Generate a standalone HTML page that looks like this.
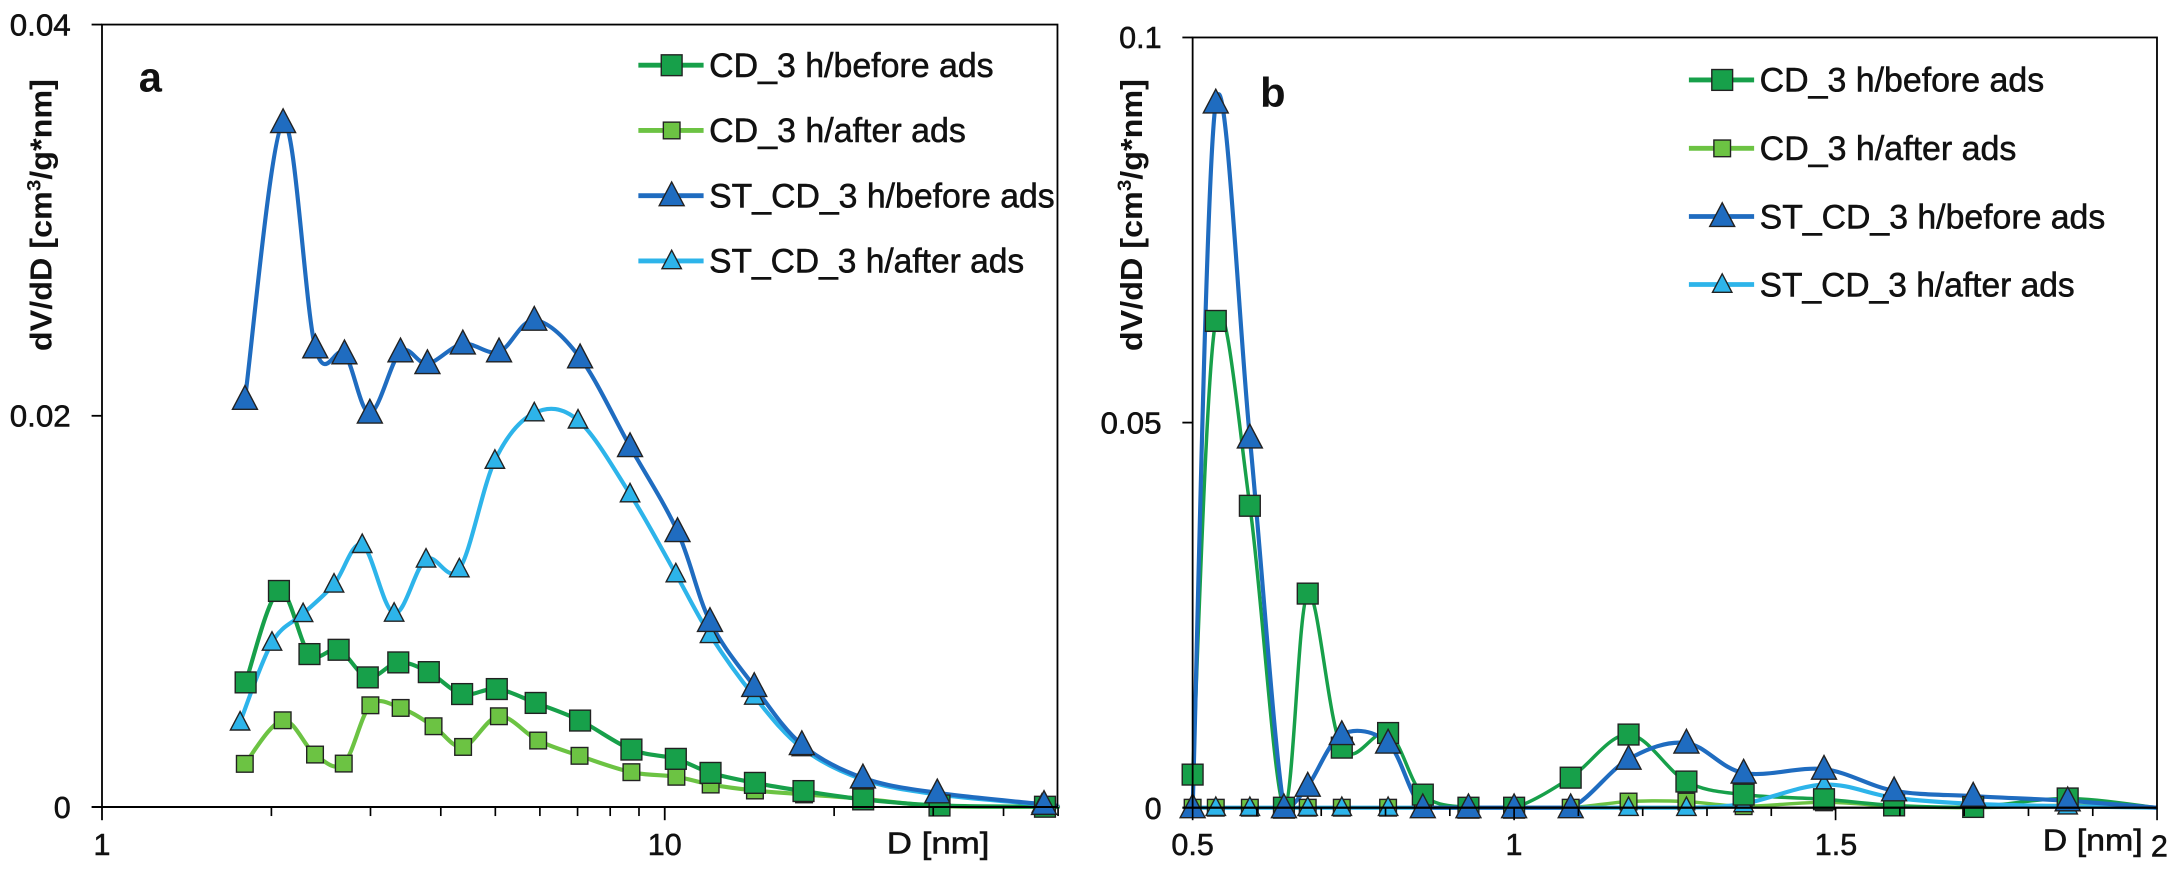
<!DOCTYPE html>
<html><head><meta charset="utf-8"><style>
html,body{margin:0;padding:0;background:#fff;}
svg{display:block;}
text{font-family:"Liberation Sans Narrow","Liberation Sans",sans-serif;fill:#111;}
</style></head><body>
<svg id="s" width="2176" height="871" viewBox="0 0 1568 627.6" preserveAspectRatio="none" xmlns="http://www.w3.org/2000/svg">
<rect x="0" y="0" width="1568" height="627.6" fill="#fff"/>
<g id="g"></g>
<!-- left panel axes -->
<rect x="73.5" y="17.7" width="688.5" height="563.8" fill="none" stroke="#000" stroke-width="1.3"/>
<line x1="66" y1="17.7" x2="73.5" y2="17.7" stroke="#000" stroke-width="1.3"/>
<line x1="66" y1="299.6" x2="73.5" y2="299.6" stroke="#000" stroke-width="1.3"/>
<line x1="66" y1="581.5" x2="762" y2="581.5" stroke="#000" stroke-width="1.5"/>
<g id="lt"></g>
<text x="51" y="25.5" font-size="22" text-anchor="end" textLength="44" lengthAdjust="spacingAndGlyphs" stroke="#111" stroke-width="0.4">0.04</text>
<text x="51" y="307.5" font-size="22" text-anchor="end" textLength="44" lengthAdjust="spacingAndGlyphs" stroke="#111" stroke-width="0.4">0.02</text>
<text x="51" y="589.5" font-size="22" text-anchor="end" stroke="#111" stroke-width="0.4">0</text>
<text x="73.5" y="616" font-size="22" text-anchor="middle" stroke="#111" stroke-width="0.4">1</text>
<text x="479" y="616" font-size="22" text-anchor="middle" stroke="#111" stroke-width="0.4">10</text>
<text x="676" y="615" font-size="22" text-anchor="middle" textLength="74" lengthAdjust="spacingAndGlyphs" stroke="#111" stroke-width="0.4">D [nm]</text>
<text x="100" y="66" font-size="30" font-weight="bold" font-family="Liberation Sans">a</text>
<text transform="translate(37,155) rotate(-90)" font-size="22" font-weight="bold" font-family="Liberation Sans" text-anchor="middle" textLength="196" lengthAdjust="spacingAndGlyphs">dV/dD [cm<tspan font-size="14" dy="-8">3</tspan><tspan dy="8">/g*nm]</tspan></text>
<!-- right panel axes -->
<rect x="859.4" y="27" width="694.9" height="555" fill="none" stroke="#000" stroke-width="1.3"/>
<line x1="852" y1="27" x2="859.4" y2="27" stroke="#000" stroke-width="1.3"/>
<line x1="852" y1="304.5" x2="859.4" y2="304.5" stroke="#000" stroke-width="1.3"/>
<line x1="852" y1="582" x2="1554.3" y2="582" stroke="#000" stroke-width="1.5"/>
<g id="rt"></g>
<text x="837" y="34.5" font-size="22" text-anchor="end" stroke="#111" stroke-width="0.4">0.1</text>
<text x="837" y="312.5" font-size="22" text-anchor="end" textLength="44" lengthAdjust="spacingAndGlyphs" stroke="#111" stroke-width="0.4">0.05</text>
<text x="837" y="590" font-size="22" text-anchor="end" stroke="#111" stroke-width="0.4">0</text>
<text x="859.4" y="616" font-size="22" text-anchor="middle" stroke="#111" stroke-width="0.4">0.5</text>
<text x="1091" y="616" font-size="22" text-anchor="middle" stroke="#111" stroke-width="0.4">1</text>
<text x="1323" y="616" font-size="22" text-anchor="middle" stroke="#111" stroke-width="0.4">1.5</text>
<text x="1508" y="613" font-size="22" text-anchor="middle" textLength="72" lengthAdjust="spacingAndGlyphs" stroke="#111" stroke-width="0.4">D [nm]</text>
<text x="1556" y="617" font-size="22" text-anchor="middle" stroke="#111" stroke-width="0.4">2</text>
<text x="908" y="77" font-size="30" font-weight="bold" font-family="Liberation Sans">b</text>
<text transform="translate(823,155) rotate(-90)" font-size="22" font-weight="bold" font-family="Liberation Sans" text-anchor="middle" textLength="196" lengthAdjust="spacingAndGlyphs">dV/dD [cm<tspan font-size="14" dy="-8">3</tspan><tspan dy="8">/g*nm]</tspan></text>
<g id="leg"></g>
</svg>
<script>
var NS="http://www.w3.org/2000/svg";
function el(p,n,a){var e=document.createElementNS(NS,n);for(var k in a)e.setAttribute(k,a[k]);p.appendChild(e);return e;}
var C={cdb:"#17a04a",cda:"#6cc343",stb:"#1f6cc0",sta:"#2db4ea"};
var L={
stb:[[176.5,287.7],[204,88.3],[227.2,250.6],[248.2,254.9],[266.5,297.6],[288.6,253.5],[308,262],[333.5,247.8],[359.6,253.5],[385,230.7],[418,257.8],[454,321.8],[488.2,383],[511.6,447.8],[543.5,494.6],[577.8,536.5],[621.8,560.5],[675.4,571.3],[752.3,579.6],[762,580.5]],
sta:[[173,520.4],[196,462.9],[218.4,442.3],[240.7,421],[261,392.5],[284,442],[307,403],[331,410],[356.6,331.8],[385,297.6],[416.5,302.8],[454,356],[487,413.6],[511.6,457.4],[543.5,501.8],[577.8,538.9],[621.8,561.7],[675.4,572.4],[750.8,579.6],[762,580.5]],
cdb:[[177,491.7],[201,425.8],[223,471.3],[244,468.2],[265,488.1],[287,477.3],[309,484.3],[333,500.1],[358,496.5],[386,506.5],[418,519.2],[455,540.1],[487,546.8],[512,556.9],[544,564.1],[579,570],[622,576],[677,580.4],[753,581.3]],
cda:[[176.4,550.4],[203.7,519],[227,543.7],[247.7,550.2],[266.9,508.2],[288.7,510.1],[312.4,523.3],[333.7,538.2],[359.5,516.1],[387.8,533.6],[417.6,544.6],[455,556.4],[487.4,559.7],[512.1,565.3],[544,569.6],[579.4,572.4],[621.8,575.6],[677.5,580.8],[753.3,581.3]]
};
var D=[0.5,0.536,0.589,0.642,0.679,0.732,0.804,0.858,0.929,1.0,1.088,1.178,1.268,1.357,1.482,1.591,1.714,1.861];
var RV={
cdb:[0.0043,0.0632,0.0392,0,0.0278,0.0078,0.0097,0.0017,0,0,0.0039,0.0095,0.0034,0.0017,0.0011,0.0003,0.0001,0.0012],
cda:[0,0,0,0,0,0,0,0,0,0,0,0.0008,0.0008,0.0002,0.0007,0.0002,0,0.0003],
stb:[0,0.0915,0.048,0,0.0028,0.0095,0.0084,0,0,0,0,0.0063,0.0084,0.0045,0.005,0.0022,0.0015,0.0009],
sta:[0,0,0,0,0,0,0,0,0,0,0,0,0,0.0005,0.003,0.0013,0.0005,0.0002]};
function rx(d){return 859.4+(d-0.5)*463.3;} function ry(v){return 582-v*5550;}
function path(p,clampY){var s="M"+p[0][0]+","+p[0][1];for(var i=0;i<p.length-1;i++){var p0=p[i-1]||p[i],p1=p[i],p2=p[i+1],p3=p[i+2]||p2,t=6;
var c1y=p1[1]+(p2[1]-p0[1])/t,c2y=p2[1]-(p3[1]-p1[1])/t;if(clampY){c1y=Math.min(c1y,clampY);c2y=Math.min(c2y,clampY);}
s+=" C"+(p1[0]+(p2[0]-p0[0])/t)+","+c1y+" "+(p2[0]-(p3[0]-p1[0])/t)+","+c2y+" "+p2[0]+","+p2[1];}return s;}
function marker(g,k,x,y,big){var c=C[k];
if(k[0]=="c"){var h=big?7.5:6;el(g,"rect",{x:x-h,y:y-h,width:2*h,height:2*h,fill:c,stroke:"#222","stroke-width":1});}
else{var h=k=="stb"?9:7;el(g,"polygon",{points:(x)+","+(y-h*1.1)+" "+(x-h)+","+(y+h*0.8)+" "+(x+h)+","+(y+h*0.8),fill:c,stroke:"#222","stroke-width":1});}}
var g=document.getElementById("g");
var order=["cda","cdb","sta","stb"];
order.forEach(function(k){var p=L[k].slice();if(k[0]=="c")p.push([762,581.5]);
el(g,"path",{d:path(p),fill:"none",stroke:C[k],"stroke-width":3});});
order.forEach(function(k){L[k].forEach(function(q,i){if(q[0]<760)marker(g,k,q[0],q[1],k=="cdb");});});
order.forEach(function(k){var p=D.map(function(d,i){return [rx(d),ry(RV[k][i])];});p.push([1554.3,582]);
el(g,"path",{d:path(p,582),fill:"none",stroke:C[k],"stroke-width":k[0]=="c"?2.5:3});});
["cda","sta","cdb","stb"].forEach(function(k){D.forEach(function(d,i){marker(g,k,rx(d),ry(RV[k][i]),k=="cdb");});});
var lt=document.getElementById("lt");
for(var dec=0;dec<2;dec++)for(var m=2;m<=9;m++){var v=Math.pow(10,dec)*m;if(v>50)break;var x=73.5+405.5*Math.log10(v);el(lt,"line",{x1:x,y1:581.5,x2:x,y2:588,stroke:"#000","stroke-width":1.2});}
[1,10].forEach(function(v){var x=73.5+405.5*Math.log10(v);el(lt,"line",{x1:x,y1:581.5,x2:x,y2:591,stroke:"#000","stroke-width":1.3});});
var rt=document.getElementById("rt");
for(var d=0.5;d<=2.001;d+=0.1){var x=rx(d);var maj=Math.abs(d*2-Math.round(d*2))<0.01;el(rt,"line",{x1:x,y1:582,x2:x,y2:maj?591:588,stroke:"#000","stroke-width":1.2});}
var lg=document.getElementById("leg");
var labs={cdb:"CD_3 h/before ads",cda:"CD_3 h/after ads",stb:"ST_CD_3 h/before ads",sta:"ST_CD_3 h/after ads"};
var lens={cdb:205,cda:185,stb:249,sta:227};
function legend(x0,ys){var ks=["cdb","cda","stb","sta"];ks.forEach(function(k,i){var y=ys[i];
el(lg,"line",{x1:x0,y1:y,x2:x0+47,y2:y,stroke:C[k],"stroke-width":3.5});marker(lg,k,x0+24,y,k=="cdb");
var t=el(lg,"text",{x:x0+51,y:y+8.5,"font-size":25,textLength:lens[k],lengthAdjust:"spacingAndGlyphs",stroke:"#111","stroke-width":0.4});t.textContent=labs[k];});}
legend(460,[47,94,141,188]);
legend(1217,[57.6,106.9,156,205]);
</script>
</body></html>
